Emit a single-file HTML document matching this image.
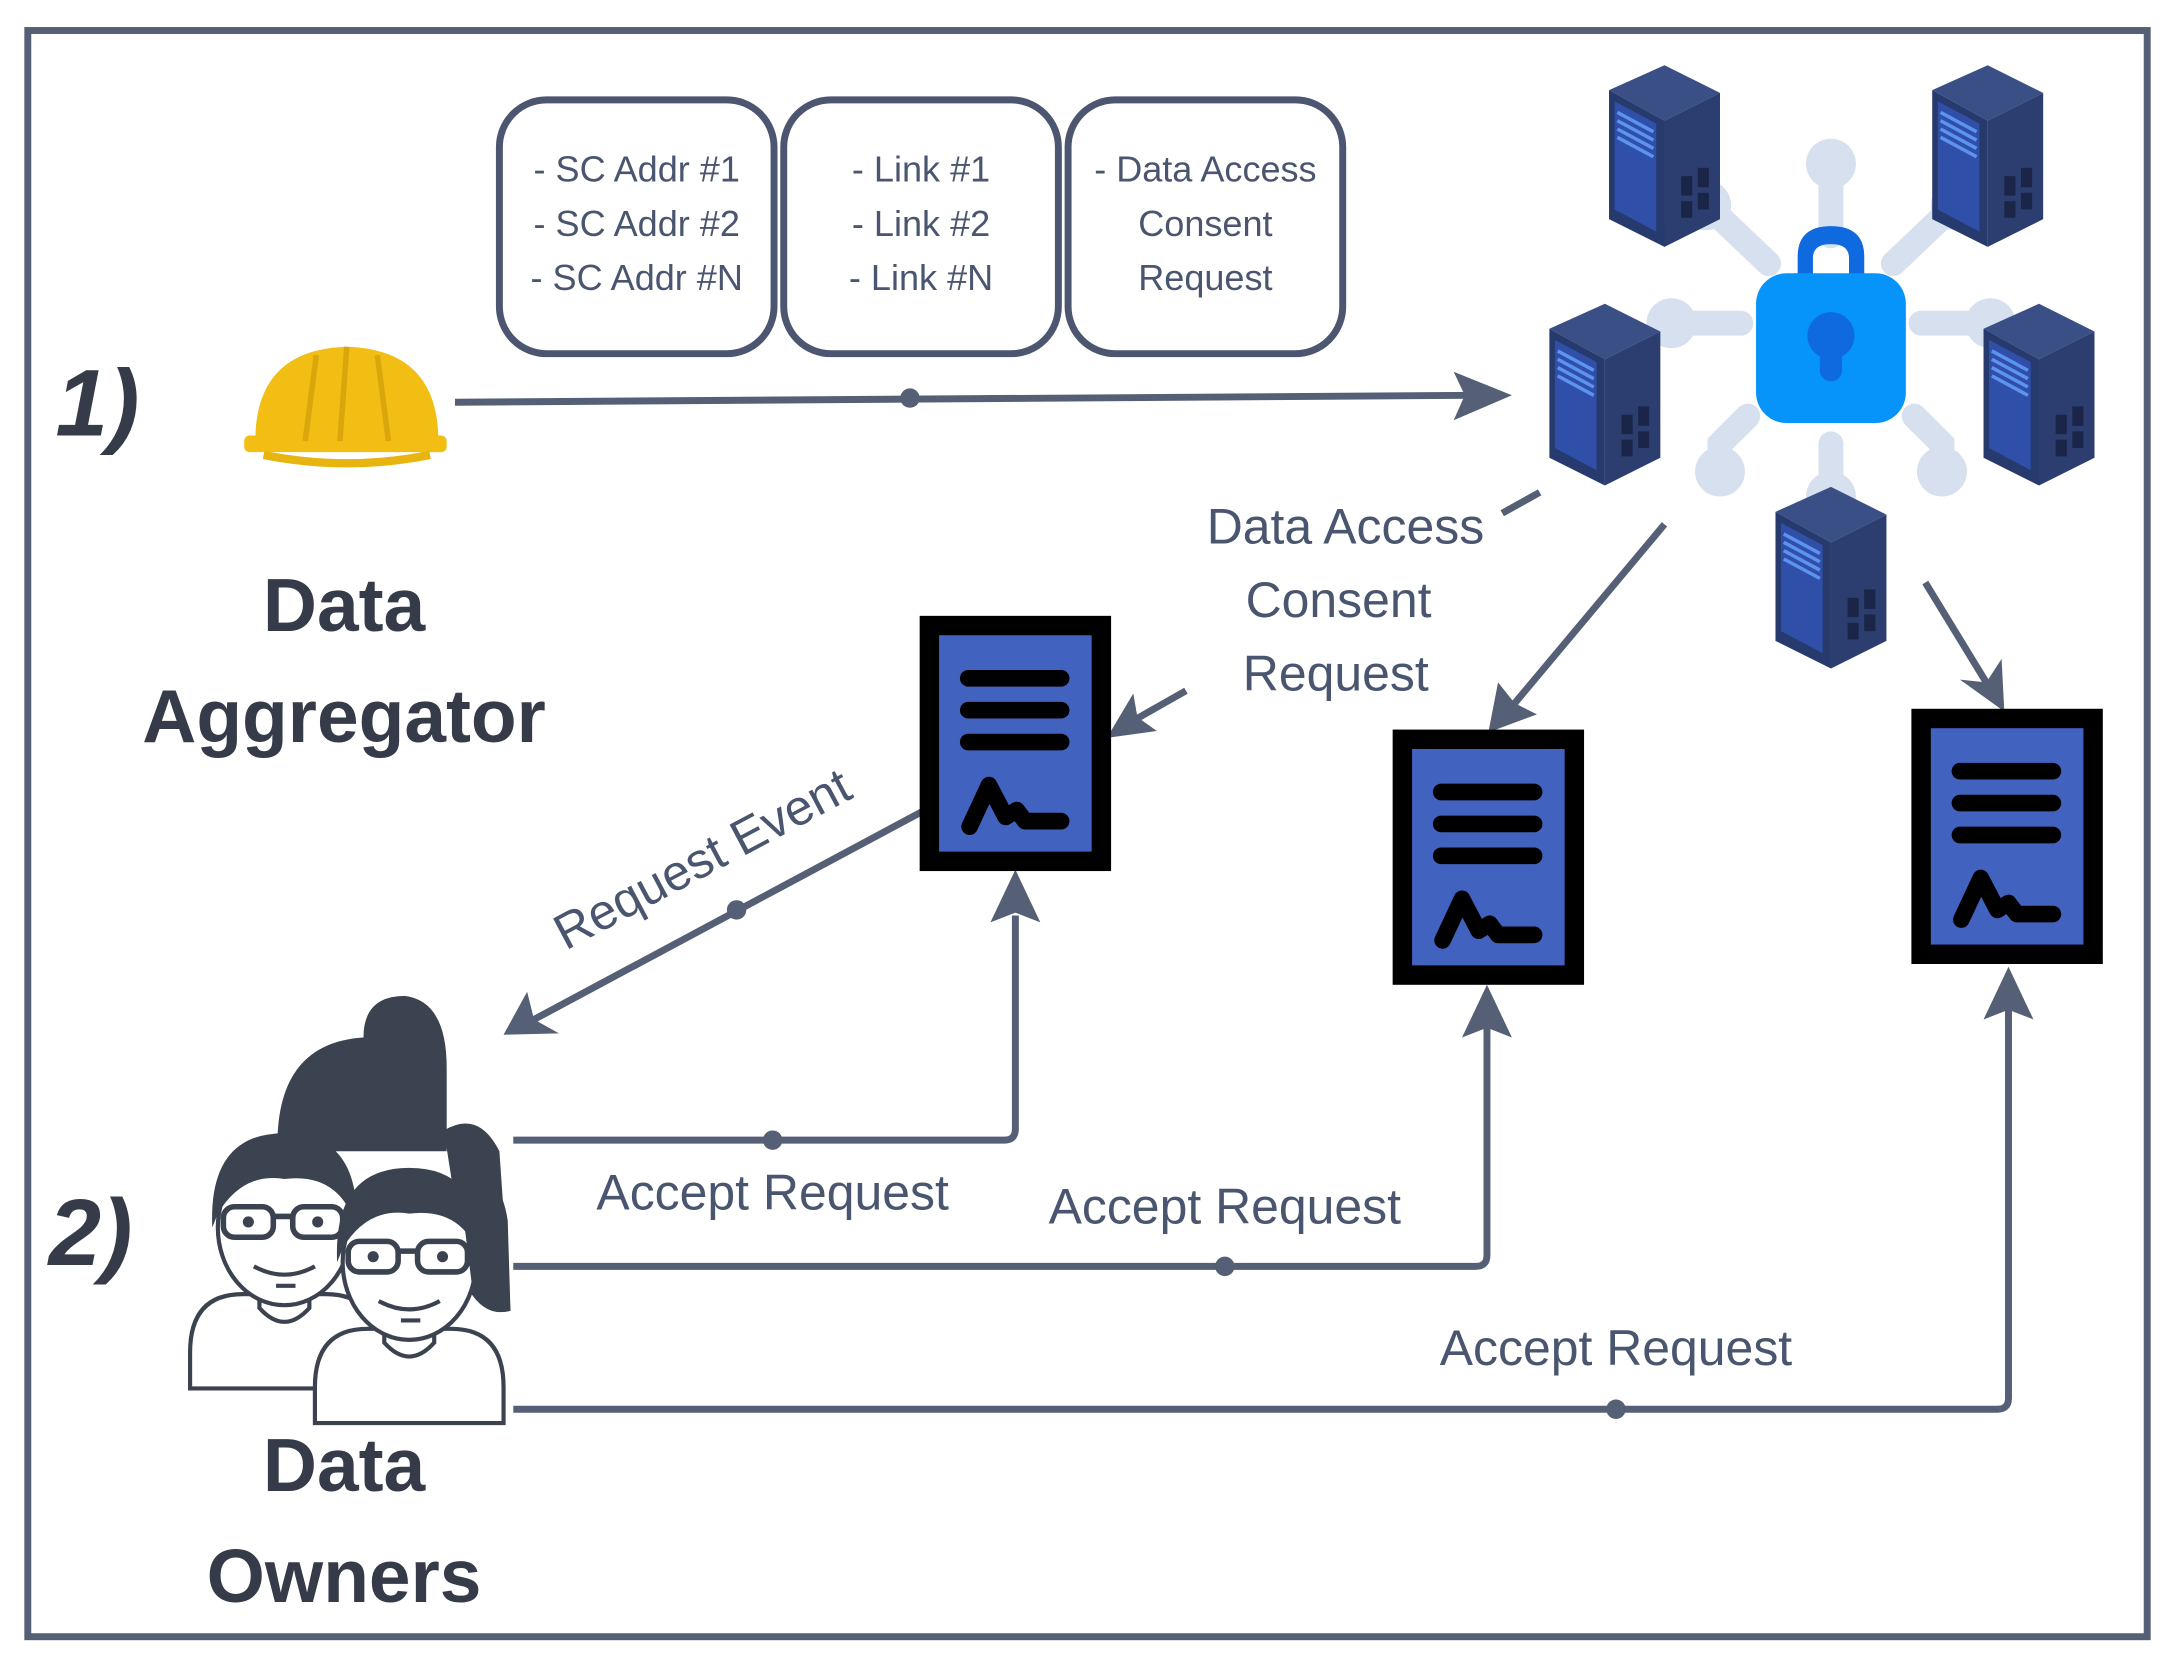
<!DOCTYPE html>
<html><head><meta charset="utf-8"><style>
html,body{margin:0;padding:0;background:#fff;}
svg{display:block;}
text{font-family:"Liberation Sans",sans-serif;}
</style></head><body>
<svg width="2175" height="1670" viewBox="0 0 1568 1204" xmlns="http://www.w3.org/2000/svg">
<defs>
<g id="server">
  <polygon points="0,18 40,0 80,20 40,40" fill="#3a4f86"/>
  <polygon points="0,18 40,40 40,131 0,111" fill="#273a6d"/>
  <polygon points="40,40 80,20 80,111 40,131" fill="#2c3d70"/>
  <polygon points="4,26 34,42 34,120 4,104" fill="#2f4fa8"/>
  <g stroke="#5d93f0" stroke-width="2.5">
    <line x1="6" y1="34" x2="32" y2="48"/><line x1="6" y1="40" x2="32" y2="54"/>
    <line x1="6" y1="46" x2="32" y2="60"/><line x1="6" y1="52" x2="32" y2="66"/>
  </g>
  <g fill="#1a2547"><rect x="52" y="80" width="8" height="14"/><rect x="64" y="74" width="8" height="14"/><rect x="52" y="98" width="8" height="12"/><rect x="64" y="92" width="8" height="12"/></g>
</g>
<g id="doc">
  <rect x="7" y="7" width="124" height="170" fill="#4262bf" stroke="#000" stroke-width="14"/>
  <g stroke="#000" stroke-width="12" stroke-linecap="round">
    <line x1="35" y1="45" x2="102" y2="45"/><line x1="35" y1="68" x2="102" y2="68"/><line x1="35" y1="91" x2="102" y2="91"/>
  </g>
  <path d="M36,152 L50,122 L62,145 L70,140 L76,148 L102,148" fill="none" stroke="#000" stroke-width="12" stroke-linecap="round" stroke-linejoin="round"/>
</g>
<g id="person">
  <path d="M-68,70 Q-68,28 -30,28 L30,28 Q68,28 68,70 L68,96 L-68,96 Z" fill="#fff" stroke="#3b4250" stroke-width="3"/>
  <path d="M-18,18 L-18,38 Q0,58 18,38 L18,18" fill="#fff" stroke="#3b4250" stroke-width="3"/>
  <ellipse cx="0" cy="-20" rx="48" ry="56" fill="#fff" stroke="#3b4250" stroke-width="3"/>
  <path d="M-52,-20 Q-55,-88 0,-88 Q55,-88 52,-20 Q40,-60 0,-55 Q-30,-60 -48,-30 Z" fill="#3b4250"/>
  <g fill="none" stroke="#3b4250" stroke-width="4"><rect x="-44" y="-35" width="36" height="22" rx="8"/><rect x="6" y="-35" width="36" height="22" rx="8"/><line x1="-8" y1="-28" x2="6" y2="-28"/></g>
  <circle cx="-26" cy="-24" r="4" fill="#3b4250"/><circle cx="24" cy="-24" r="4" fill="#3b4250"/>
  <path d="M-22,8 Q0,20 22,8" fill="none" stroke="#3b4250" stroke-width="3"/>
  <line x1="-6" y1="22" x2="8" y2="22" stroke="#3b4250" stroke-width="3"/>
</g>
</defs>
<rect x="20" y="22" width="1528" height="1158" fill="#fff" stroke="#555f75" stroke-width="5"/>

<g fill="#fff" stroke="#4d5670" stroke-width="5">
<rect x="360" y="72" width="198" height="183" rx="34"/>
<rect x="565" y="72" width="198" height="183" rx="34"/>
<rect x="770" y="72" width="198" height="183" rx="34"/>
</g>
<g fill="#4a5570" font-size="26" text-anchor="middle">
<text x="459" y="131">- SC Addr #1</text><text x="459" y="170">- SC Addr #2</text><text x="459" y="209">- SC Addr #N</text>
<text x="664" y="131">- Link #1</text><text x="664" y="170">- Link #2</text><text x="664" y="209">- Link #N</text>
<text x="869" y="131">- Data Access</text><text x="869" y="170">Consent</text><text x="869" y="209">Request</text>
</g>

<text x="40" y="314" font-size="68" font-weight="bold" font-style="italic" fill="#353b48">1)</text>
<text x="35" y="912" font-size="68" font-weight="bold" font-style="italic" fill="#353b48">2)</text>

<path d="M184,318 Q184,252 250,250 Q316,252 316,318 Z" fill="#f2be14"/>
<rect x="176" y="314" width="146" height="12" rx="4" fill="#f2be14"/>
<path d="M250,250 L245,318 M228,256 L220,318 M272,256 L280,318" stroke="#d9a70c" stroke-width="4"/>
<path d="M190,328 Q250,340 310,328" stroke="#e8b410" stroke-width="6" fill="none"/>

<text x="248" y="455" font-size="54" font-weight="bold" fill="#353b48" text-anchor="middle">Data</text>
<text x="248" y="535" font-size="54" font-weight="bold" fill="#353b48" text-anchor="middle">Aggregator</text>
<text x="248" y="1075" font-size="54" font-weight="bold" fill="#353b48" text-anchor="middle">Data</text>
<text x="248" y="1155" font-size="54" font-weight="bold" fill="#353b48" text-anchor="middle">Owners</text>

<g stroke="#555f75" stroke-width="5" fill="none" stroke-linejoin="round">
<line x1="328" y1="290" x2="1060" y2="285"/>
<line x1="1083" y1="370" x2="1110" y2="355"/>
<line x1="855" y1="498" x2="818" y2="519"/>
<line x1="1200" y1="378" x2="1092" y2="507"/>
<line x1="1388" y1="420" x2="1432" y2="492"/>
<line x1="665" y1="585" x2="385" y2="735"/>
<path d="M370,822 L724,822 Q732,822 732,814 L732,660"/>
<path d="M370,913 L1064,913 Q1072,913 1072,905 L1072,740"/>
<path d="M370,1016 L1440,1016 Q1448,1016 1448,1008 L1448,725"/>
</g>
<g fill="#555f75">
<polygon points="1090,285 1048,268 1056,285 1048,303"/>
<polygon points="798,532 817,500 820,517 834,527"/>
<polygon points="1073,528 1080,492 1092,507 1108,515"/>
<polygon points="1445,513 1413,490 1432,492 1443,475"/>
<polygon points="363,746 380,715 385,735 403,745"/>
<polygon points="732,627 714,665 732,658 750,665"/>
<polygon points="1072,710 1054,748 1072,741 1090,748"/>
<polygon points="1448,697 1430,735 1448,728 1466,735"/>
<circle cx="656" cy="287" r="7"/><circle cx="531" cy="656" r="7"/>
<circle cx="557" cy="822" r="7"/><circle cx="883" cy="913" r="7"/><circle cx="1165" cy="1016" r="7"/>
</g>

<g fill="#4a5570" font-size="36">
<text x="1070" y="392" text-anchor="end">Data Access</text>
<text x="965" y="445" text-anchor="middle">Consent</text>
<text x="963" y="498" text-anchor="middle">Request</text>
<text x="557" y="872" text-anchor="middle">Accept Request</text>
<text x="883" y="882" text-anchor="middle">Accept Request</text>
<text x="1165" y="984" text-anchor="middle">Accept Request</text>
<text x="0" y="0" text-anchor="middle" transform="translate(512,630) rotate(-28)">Request Event</text>
</g>

<use href="#doc" x="663" y="444"/>
<use href="#doc" x="1004" y="526"/>
<use href="#doc" x="1378" y="511"/>

<g stroke="#d6e0ee" stroke-width="18" stroke-linecap="round" fill="none">
<line x1="1320" y1="135" x2="1320" y2="170"/>
<line x1="1275" y1="190" x2="1235" y2="152"/>
<line x1="1365" y1="190" x2="1405" y2="152"/>
<line x1="1255" y1="233" x2="1205" y2="233"/>
<line x1="1385" y1="233" x2="1435" y2="233"/>
<path d="M1260,300 L1240,320 L1240,340"/>
<path d="M1380,300 L1400,320 L1400,340"/>
<line x1="1320" y1="320" x2="1320" y2="355"/>
</g>
<g fill="#d6e0ee">
<circle cx="1320" cy="118" r="18"/><circle cx="1240" cy="340" r="18"/><circle cx="1400" cy="340" r="18"/>
<circle cx="1320" cy="358" r="18"/><circle cx="1205" cy="233" r="18"/><circle cx="1435" cy="233" r="18"/>
<circle cx="1230" cy="148" r="18"/><circle cx="1410" cy="148" r="18"/>
</g>
<path d="M1296,200 L1296,185 Q1296,163 1320,163 Q1344,163 1344,185 L1344,200 L1333,200 L1333,186 Q1333,176 1320,176 Q1307,176 1307,186 L1307,200 Z" fill="#0f6ae0"/>
<rect x="1266" y="197" width="108" height="108" rx="22" fill="#0694fb"/>
<circle cx="1320" cy="242" r="17" fill="#0f6ae0"/>
<rect x="1312" y="245" width="16" height="30" rx="8" fill="#0f6ae0"/>
<use href="#server" x="1160" y="47"/>
<use href="#server" x="1393" y="47"/>
<use href="#server" x="1117" y="219"/>
<use href="#server" x="1430" y="219"/>
<use href="#server" x="1280" y="351"/>

<!-- persons -->
<path d="M200,830 Q198,752 262,748 Q262,718 292,718 Q322,722 322,770 L322,830 Z" fill="#3b4250"/>
<use href="#person" x="205" y="905"/>
<path d="M320,815 Q345,800 360,830 L368,945 Q350,950 338,930 Z" fill="#3b4250"/>
<use href="#person" x="295" y="930"/>
<path d="M330,845 Q360,840 366,880 L368,945 Q350,950 340,925 Z" fill="#3b4250"/>
</svg>
</body></html>
